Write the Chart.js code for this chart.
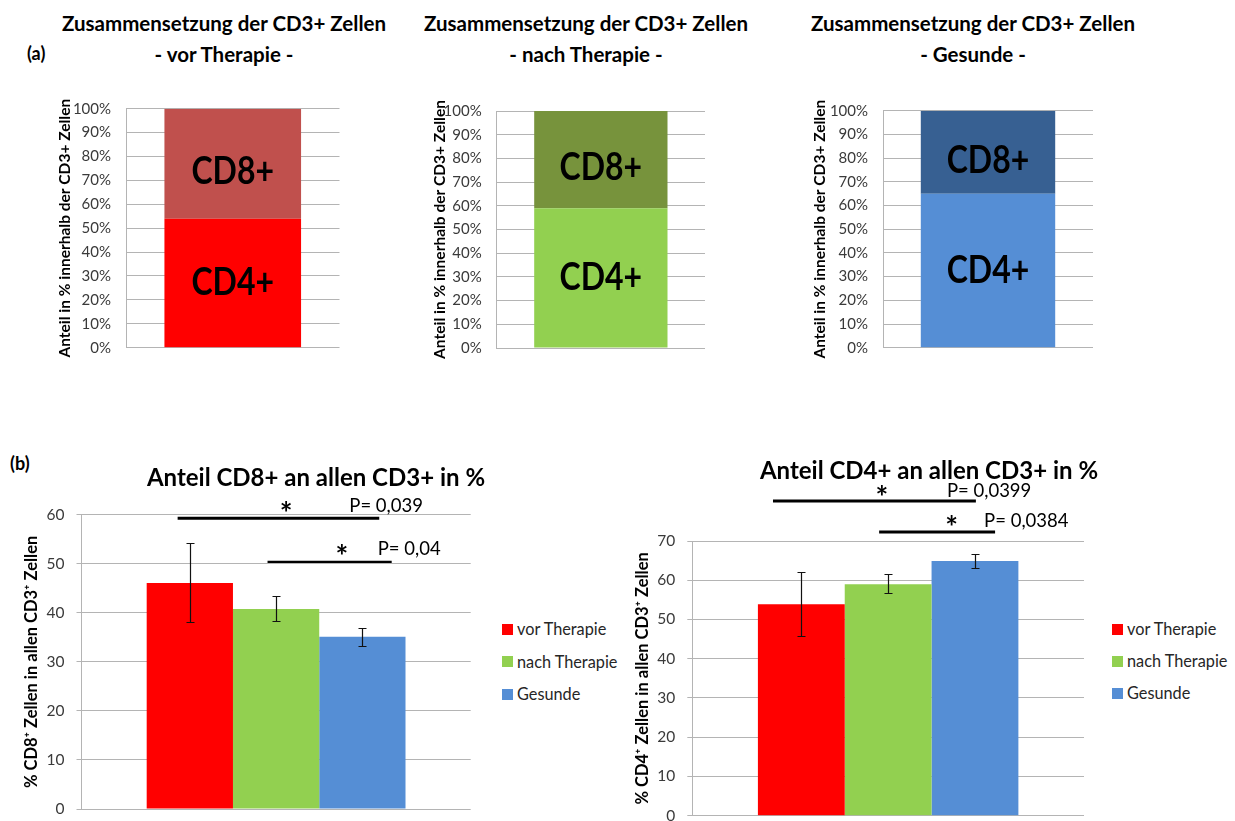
<!DOCTYPE html>
<html>
<head>
<meta charset="utf-8">
<script src="https://cdn.jsdelivr.net/npm/chart.js@4.4.1/dist/chart.umd.min.js"></script>
<style>
  body { margin: 0; width: 1235px; height: 821px; position: relative; overflow: hidden; background: #fff; font-family: Lato, "Open Sans", sans-serif; }
  canvas { position: absolute; }
  .t { position: absolute; text-align: center; font-weight: bold; color: #000; white-space: nowrap; }
  .tag { position: absolute; font-weight: bold; font-size: 18px; line-height: 22px; color: #000; }
  .leg { position: absolute; height: 20px; line-height: 20px; font-size: 16.3px; color: #262626; display: flex; align-items: center; white-space: nowrap; }
  .leg span { display: inline-block; width: 11px; height: 11px; margin-right: 4px; }
</style>
</head>
<body>
<canvas id="comp1" width="305" height="295" style="left:56px;top:80px"></canvas>
<canvas id="comp2" width="292" height="295" style="left:431px;top:80px"></canvas>
<canvas id="comp3" width="301" height="295" style="left:811px;top:80px"></canvas>
<canvas id="cd8" width="458" height="360" style="left:22px;top:480px"></canvas>
<canvas id="cd4" width="461" height="362" style="left:633px;top:478px"></canvas>

<div class="tag" style="left:27px;top:42px">(a)</div>
<div class="tag" style="left:10px;top:452px">(b)</div>
<div class="t" style="left:24px;top:8px;width:400px;font-size:20.5px;line-height:31px">Zusammensetzung der CD3+ Zellen<br>- vor Therapie -</div>
<div class="t" style="left:386px;top:8px;width:400px;font-size:20.5px;line-height:31px">Zusammensetzung der CD3+ Zellen<br>- nach Therapie -</div>
<div class="t" style="left:773px;top:8px;width:400px;font-size:20.5px;line-height:31px">Zusammensetzung der CD3+ Zellen<br>- Gesunde -</div>
<div class="t" style="left:116px;top:462px;width:400px;font-size:24px;line-height:30px">Anteil CD8+ an allen CD3+ in %</div>
<div class="t" style="left:729px;top:455px;width:400px;font-size:24px;line-height:30px">Anteil CD4+ an allen CD3+ in %</div>

<script>
// groups
const groupNames = ['vor Therapie', 'nach Therapie', 'Gesunde'];

// (a) composition of CD3+ cells, % per group
const compCD4 = [54, 59, 65];
const compCD8 = [46, 41, 35];
const compTicks = [0, 10, 20, 30, 40, 50, 60, 70, 80, 90, 100];

// (b) CD8+ share of CD3+ (mean, lower/upper error)
const cd8Mean = [46.1, 40.8, 35.1];
const cd8Low = [38.1, 38.3, 33.3];
const cd8High = [54.2, 43.4, 36.9];
const cd8Ticks = [0, 10, 20, 30, 40, 50, 60];
const cd8PValues = ['P= 0,039', 'P= 0,04'];

// (b) CD4+ share of CD3+
const cd4Mean = [53.9, 59.0, 64.9];
const cd4Low = [45.8, 56.7, 63.2];
const cd4High = [62.2, 61.7, 66.7];
const cd4Ticks = [0, 10, 20, 30, 40, 50, 60, 70];
const cd4PValues = ['P= 0,0399', 'P= 0,0384'];

// colours
const groupColors = ['#ff0000', '#92d050', '#558ed5'];
const darkColors = ['#c0504d', '#77933c', '#376092'];
const gridColor = '#b4b4b4';
const tickColor = '#3a3a3a';

Chart.defaults.font.family = 'Lato, "Open Sans", sans-serif';
Chart.defaults.animation = false;

// error bars, significance bars and in-bar labels
const extras = {
    id: 'extras',
    afterDatasetsDraw(chart, args, opts) {
        const ctx = chart.ctx;
        const y = chart.scales.y;
        const area = chart.chartArea;
        const w = area.right - area.left;
        ctx.save();
        if (opts.low) {
            ctx.strokeStyle = '#111';
            ctx.lineWidth = 1.2;
            chart.data.datasets.forEach((ds, i) => {
                const bar = chart.getDatasetMeta(i).data[0];
                const yl = Math.round(y.getPixelForValue(opts.low[i])) + 0.5;
                const yh = Math.round(y.getPixelForValue(opts.high[i])) + 0.5;
                const x = Math.round(bar.x) + 0.5;
                ctx.beginPath();
                ctx.moveTo(x, yl); ctx.lineTo(x, yh);
                ctx.moveTo(x - 4, yl); ctx.lineTo(x + 4, yl);
                ctx.moveTo(x - 4, yh); ctx.lineTo(x + 4, yh);
                ctx.stroke();
            });
        }
        if (opts.sig) {
            opts.sig.forEach((s, k) => {
                const ly = y.getPixelForValue(s.y);
                ctx.strokeStyle = '#000';
                ctx.lineWidth = s.w;
                ctx.beginPath();
                ctx.moveTo(area.left + s.x0 * w, ly);
                ctx.lineTo(area.left + s.x1 * w, ly);
                ctx.stroke();
                ctx.fillStyle = '#000';
                ctx.font = 'bold 30px Lato, sans-serif';
                ctx.textAlign = 'center';
                ctx.textBaseline = 'alphabetic';
                ctx.fillText('*', area.left + s.sx * w, y.getPixelForValue(s.sy) + 16);
                ctx.font = '18.5px Lato, sans-serif';
                ctx.textAlign = 'left';
                ctx.textBaseline = 'middle';
                ctx.fillText(opts.pText[k], area.left + s.px * w, y.getPixelForValue(s.py));
            });
        }
        if (opts.segLabels) {
            ctx.fillStyle = '#000';
            ctx.font = 'bold 39px Lato, sans-serif';
            ctx.textAlign = 'center';
            ctx.textBaseline = 'middle';
            chart.data.datasets.forEach((ds, i) => {
                const bar = chart.getDatasetMeta(i).data[0];
                ctx.save();
                ctx.translate(bar.x, (bar.y + bar.base) / 2 + opts.shift[i]);
                ctx.scale(0.82, 1);
                ctx.fillText(ds.label, 0, 0);
                ctx.restore();
            });
        }
        ctx.restore();
    }
};

function yAxis(max, ticks, fmt, title, titleSize, width, drawTicks, pad, tickSize) {
    return {
        min: 0, max: max,
        afterBuildTicks: s => { s.ticks = ticks.map(v => ({ value: v })); },
        ticks: { callback: fmt, padding: pad, color: tickColor, font: { size: tickSize } },
        grid: { color: gridColor, drawTicks: drawTicks, tickLength: 5, lineWidth: 1 },
        border: { color: gridColor },
        title: { display: true, text: title, color: '#000', padding: 0, font: { size: titleSize, weight: 'bold' } },
        afterFit: s => { s.width = width; }
    };
}

function xAxis() {
    return {
        grid: { display: false },
        border: { display: false },
        ticks: { display: false },
        afterFit: s => { s.height = 0; }
    };
}

// (a) stacked 100% charts
function compChart(id, i, pad, yWidth) {
    new Chart(document.getElementById(id), {
        type: 'bar',
        data: {
            labels: [groupNames[i]],
            datasets: [
                { label: 'CD4+', data: [compCD4[i]], backgroundColor: groupColors[i] },
                { label: 'CD8+', data: [compCD8[i]], backgroundColor: darkColors[i] }
            ]
        },
        options: {
            responsive: false,
            maintainAspectRatio: false,
            layout: { padding: pad },
            datasets: { bar: { categoryPercentage: 1, barPercentage: 0.64, borderWidth: 0 } },
            scales: {
                x: Object.assign(xAxis(), { stacked: true }),
                y: Object.assign(yAxis(100, compTicks, v => v + '%', 'Anteil in % innerhalb der CD3+ Zellen', 15.5, yWidth, false, 15, 15), { stacked: true })
            },
            plugins: {
                legend: { display: false },
                tooltip: { enabled: false },
                extras: { segLabels: true, shift: [0, 8] }
            }
        },
        plugins: [extras]
    });
}

compChart('comp1', 0, { left: 0, top: 28.7, right: 21.5, bottom: 27.3 }, 70);
compChart('comp2', 1, { left: 0, top: 31, right: 18, bottom: 27 }, 65.7);
compChart('comp3', 2, { left: 0, top: 30.7, right: 19, bottom: 27.3 }, 72);

// (b) grouped bars with error bars
function shareChart(id, mean, low, high, max, ticks, title, pValues, sig, pad, yWidth) {
    new Chart(document.getElementById(id), {
        type: 'bar',
        data: {
            labels: [''],
            datasets: groupNames.map((name, i) => ({
                label: name,
                data: [mean[i]],
                backgroundColor: groupColors[i]
            }))
        },
        options: {
            responsive: false,
            maintainAspectRatio: false,
            layout: { padding: pad },
            datasets: { bar: { categoryPercentage: 0.665, barPercentage: 1, borderWidth: 0 } },
            scales: {
                x: xAxis(),
                y: yAxis(max, ticks, v => v, title, 16.5, yWidth, true, 12, 15.5)
            },
            plugins: {
                legend: { display: false },
                tooltip: { enabled: false },
                extras: { low: low, high: high, sig: sig, pText: pValues }
            }
        },
        plugins: [extras]
    });
}

shareChart('cd8', cd8Mean, cd8Low, cd8High, 60, cd8Ticks, '% CD8\u207A Zellen in allen CD3\u207A Zellen', cd8PValues,
    [{ x0: 0.247, x1: 0.765, y: 59.3, w: 3, sx: 0.526, sy: 61.4, px: 0.688, py: 61.8 },
     { x0: 0.478, x1: 0.797, y: 50.4, w: 2.2, sx: 0.669, sy: 52.6, px: 0.761, py: 52.9 }],
    { left: 0, top: 34.7, right: 9.3, bottom: 31 }, 59.5);

shareChart('cd4', cd4Mean, cd4Low, cd4High, 70, cd4Ticks, '% CD4\u207A Zellen in allen CD3\u207A Zellen', cd4PValues,
    [{ x0: 0.206, x1: 0.724, y: 80.2, w: 3, sx: 0.484, sy: 82.4, px: 0.650, py: 82.8 },
     { x0: 0.477, x1: 0.773, y: 72.3, w: 3, sx: 0.662, sy: 74.8, px: 0.745, py: 75.0 }],
    { left: 0, top: 63, right: 10, bottom: 24.3 }, 59.3);

// legends
function addLegend(x, y0, step) {
    groupNames.forEach((name, i) => {
        const row = document.createElement('div');
        row.className = 'leg';
        row.style.left = x + 'px';
        row.style.top = (y0 + i * step - 10) + 'px';
        row.innerHTML = '<span style="background:' + groupColors[i] + '"></span>' + name;
        document.body.appendChild(row);
    });
}
addLegend(502, 629, 32.5);
addLegend(1112, 629.3, 32);
</script>
</body>
</html>
